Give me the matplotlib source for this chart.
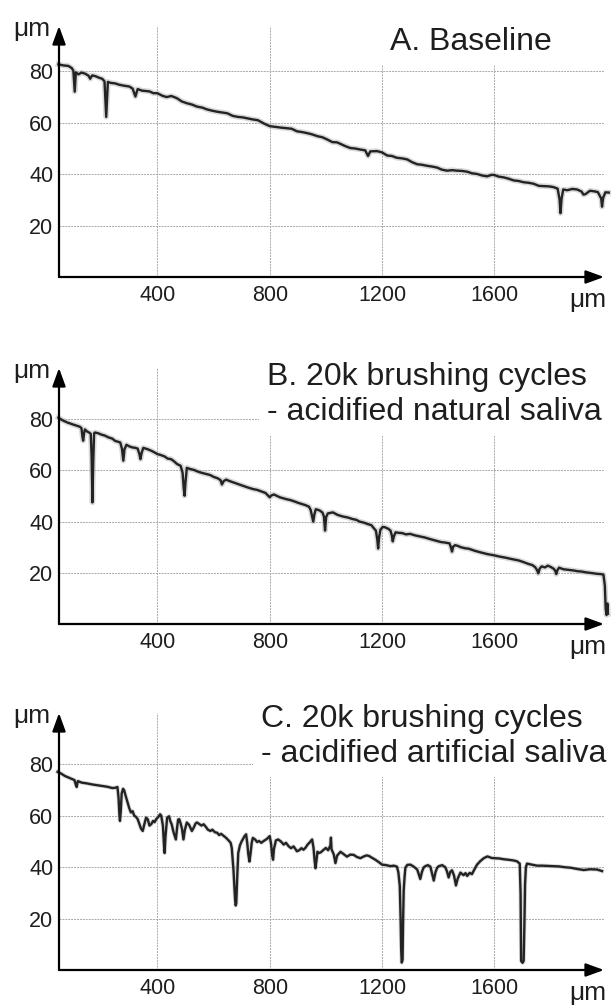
import matplotlib
matplotlib.use('Agg')
import matplotlib.pyplot as plt

plt.rcParams['font.family'] = ['Liberation Sans', 'DejaVu Sans']

# -------------------------
# DATA (µm)
# -------------------------
x_ticks = [400, 800, 1200, 1600]
y_ticks = [20, 40, 60, 80]

titles_a = ["A. Baseline"]
titles_b = ["B. 20k brushing cycles", "- acidified natural saliva"]
titles_c = ["C. 20k brushing cycles", "- acidified artificial saliva"]

a_x = [48, 65, 83, 95, 101, 106, 110, 119, 130, 143, 155, 161, 168, 180, 195, 204, 212, 218, 224, 234,
       250, 264, 282, 300, 312, 322, 330, 345, 372, 386, 400, 418, 433, 450, 469, 487, 505, 523, 541, 560,
       577, 595, 613, 630, 649, 668, 686, 704, 722, 740, 758, 780, 800, 820, 842, 860, 878, 897, 915, 933,
       951, 970, 987, 1005, 1023, 1040, 1052, 1070, 1087, 1105, 1123, 1140, 1150, 1158, 1182, 1200, 1218,
       1235, 1253, 1270, 1289, 1307, 1325, 1342, 1360, 1378, 1396, 1413, 1431, 1450, 1467, 1485, 1503,
       1520, 1539, 1557, 1574, 1590, 1600, 1615, 1633, 1650, 1669, 1686, 1704, 1722, 1740, 1758, 1776,
       1795, 1811, 1825, 1832, 1835, 1839, 1845, 1859, 1877, 1894, 1910, 1917, 1924, 1940, 1954, 1968,
       1980, 1983, 1987, 1995, 2007]
a_y = [82.6, 82.2, 82.0, 81.2, 80.2, 72.0, 79.5, 78.7, 79.4, 79.0, 78.2, 77.0, 78.3, 78.0, 77.3, 77.0,
       76.0, 62.2, 75.8, 75.4, 75.2, 74.7, 74.3, 74.0, 73.2, 70.1, 73.0, 72.4, 72.1, 71.4, 71.4, 70.4,
       69.9, 70.3, 69.5, 68.2, 67.5, 67.0, 66.2, 65.8, 65.1, 64.6, 64.2, 63.9, 63.6, 62.6, 62.2, 62.0,
       61.6, 61.2, 60.9, 59.6, 58.6, 58.3, 58.0, 57.8, 57.6, 56.6, 56.3, 55.9, 55.4, 54.7, 54.3, 53.4,
       52.4, 52.3, 51.7, 50.8, 50.1, 49.9, 49.5, 49.2, 47.0, 48.8, 48.9, 48.4, 47.2, 47.0, 46.3, 46.1,
       45.7, 44.6, 43.8, 43.6, 43.2, 42.9, 42.5, 41.7, 41.3, 41.5, 41.3, 41.2, 40.9, 40.3, 40.0, 39.4,
       39.1, 39.7, 39.6, 39.0, 38.7, 38.2, 37.5, 37.3, 36.8, 36.6, 36.2, 35.4, 35.3, 35.2, 34.9, 34.3,
       30.0, 24.8, 30.5, 34.0, 33.7, 34.2, 34.0, 33.2, 32.0, 32.2, 33.5, 33.3, 33.0, 30.5, 27.3, 30.8,
       32.9, 32.8]

b_x = [48, 62, 80, 98, 115, 125, 130, 133, 136, 139, 142, 150, 157, 163, 166, 169, 172, 175, 178, 190,
       200, 213, 226, 240, 250, 260, 268, 274, 279, 283, 290, 300, 310, 322, 330, 336, 340, 344, 350, 365,
       382, 400, 412, 425, 437, 449, 460, 470, 483, 490, 494, 497, 500, 505, 518, 530, 545, 560, 574, 588,
       600, 615, 625, 630, 636, 645, 658, 671, 685, 700, 720, 741, 755, 770, 785, 795, 800, 806, 815, 836,
       858, 874, 890, 902, 914, 928, 940, 946, 950, 955, 959, 964, 972, 980, 988, 993, 997, 1001, 1007,
       1025, 1042, 1060, 1078, 1095, 1108, 1120, 1135, 1150, 1162, 1170, 1178, 1183, 1186, 1189, 1194,
       1202, 1210, 1222, 1230, 1235, 1238, 1242, 1248, 1260, 1272, 1285, 1300, 1318, 1335, 1352, 1370,
       1390, 1410, 1425, 1440, 1445, 1449, 1453, 1460, 1470, 1480, 1495, 1509, 1530, 1550, 1575, 1600,
       1620, 1640, 1660, 1687, 1703, 1720, 1735, 1745, 1752, 1756, 1761, 1768, 1780, 1790, 1800, 1812,
       1817, 1820, 1824, 1830, 1845, 1860, 1872, 1882, 1897, 1910, 1925, 1940, 1953, 1965, 1978, 1988,
       1993, 1996, 1999, 2002, 2004]
b_y = [80.6, 79.6, 78.7, 78.0, 77.4, 77.0, 76.5, 73.5, 71.6, 74.2, 76.0, 75.2, 74.8, 74.3, 66.0, 47.5,
       64.0, 74.5, 74.8, 74.5, 74.0, 73.6, 72.9, 72.4, 71.5, 71.2, 70.9, 68.5, 63.8, 68.2, 70.0, 69.4,
       69.0, 68.8, 68.5, 66.5, 64.4, 66.8, 68.8, 68.3, 67.5, 66.4, 66.0, 65.5, 64.6, 64.4, 63.5, 62.5,
       61.8, 59.0, 53.0, 50.1, 55.0, 61.0, 60.5, 60.2, 59.5, 59.0, 58.6, 58.2, 57.5, 56.9, 56.2, 54.5,
       55.8, 56.4, 55.8, 55.3, 54.8, 54.2, 53.4, 52.7, 52.4, 51.8, 51.2, 50.1, 49.5, 50.2, 50.6, 49.5,
       48.8, 48.4, 47.8, 47.3, 46.9, 46.4, 45.8, 44.5, 42.5, 40.0, 42.8, 44.8, 44.6, 44.2, 43.5, 42.0,
       36.5, 41.8, 43.2, 43.6, 42.6, 42.0, 41.6, 41.0, 40.7, 40.0, 39.6, 39.0, 38.6, 37.5, 36.5, 33.0,
       29.5, 33.5, 36.8, 37.9, 37.8, 37.2, 36.5, 34.5, 32.3, 34.2, 35.8, 35.6, 35.5, 35.0, 35.2, 34.6,
       34.2, 33.8, 33.2, 32.6, 32.0, 31.8, 31.5, 30.0, 28.3, 30.2, 30.8, 30.5, 30.0, 29.6, 29.4, 28.6,
       28.0, 27.3, 26.8, 26.3, 25.9, 25.4, 24.8, 24.2, 23.5, 23.0, 22.2, 21.0, 19.8, 21.6, 22.5, 22.1,
       22.8, 22.3, 21.5, 20.6, 19.5, 21.0, 22.0, 21.4, 21.2, 21.0, 20.9, 20.6, 20.5, 20.2, 20.0, 19.8,
       19.6, 19.5, 19.3, 15.0, 6.0, 3.5, 8.0, 4.0]

c_x = [45, 58, 71, 90, 105, 110, 113, 117, 131, 150, 168, 185, 204, 222, 240, 250, 258, 262, 265, 267,
       270, 273, 278, 282, 288, 294, 300, 306, 312, 318, 324, 330, 337, 342, 348, 354, 360, 366, 372, 378,
       385, 390, 396, 404, 410, 414, 420, 424, 426, 429, 435, 442, 446, 451, 458, 463, 466, 470, 474, 478,
       483, 488, 493, 498, 505, 513, 518, 523, 530, 536, 541, 548, 557, 565, 572, 580, 589, 596, 605, 613,
       620, 627, 637, 645, 653, 661, 665, 668, 671, 674, 677, 679, 681, 684, 688, 694, 700, 704, 710, 716,
       720, 724, 728, 732, 736, 740, 748, 755, 762, 770, 780, 790, 800, 805, 809, 812, 815, 822, 830, 840,
       850, 858, 867, 876, 885, 897, 905, 913, 920, 927, 935, 942, 951, 956, 960, 963, 967, 970, 975, 982,
       990, 1000, 1008, 1016, 1018, 1020, 1028, 1034, 1040, 1052, 1062, 1075, 1087, 1099, 1110, 1123,
       1135, 1145, 1153, 1165, 1176, 1188, 1200, 1215, 1230, 1242, 1253, 1258, 1263, 1266, 1268, 1270,
       1273, 1275, 1277, 1280, 1283, 1290, 1301, 1313, 1325, 1330, 1336, 1342, 1348, 1354, 1363, 1372,
       1378, 1384, 1390, 1396, 1402, 1414, 1425, 1431, 1437, 1443, 1449, 1456, 1463, 1469, 1479, 1490,
       1497, 1503, 1512, 1520, 1528, 1538, 1550, 1562, 1575, 1590, 1600, 1617, 1633, 1650, 1669, 1680,
       1690, 1693, 1695, 1700, 1704, 1707, 1709, 1712, 1716, 1733, 1752, 1770, 1790, 1811, 1830, 1850,
       1871, 1895, 1918, 1940, 1965, 1983]
c_y = [77.1, 76.4, 75.5, 74.6, 73.9, 72.0, 71.2, 73.5, 72.9, 72.6, 72.2, 71.9, 71.6, 71.3, 70.8, 70.9,
       71.2, 67.0, 60.5, 58.0, 62.0, 68.6, 70.5, 69.9, 67.5, 65.3, 63.0, 61.3, 61.8, 60.0, 59.6, 58.7,
       56.6, 55.0, 54.1, 56.8, 59.3, 58.6, 56.2, 56.7, 58.0, 57.5, 58.7, 59.6, 60.6, 60.0, 56.0, 48.0,
       45.5, 52.0, 59.3, 59.8, 58.0, 56.7, 53.5, 51.8, 50.8, 55.0, 58.5, 58.7, 57.0, 54.8, 50.8, 54.5,
       57.4, 56.5, 55.3, 54.1, 55.5, 57.0, 57.4, 56.9, 56.2, 56.7, 55.8, 54.6, 54.1, 54.6, 53.6, 53.4,
       52.5, 53.0, 52.1, 51.4, 50.5, 49.5, 47.5, 43.0, 39.0, 33.0, 27.0, 25.1, 26.0, 35.0, 45.5, 48.5,
       50.0, 50.8, 52.0, 52.8, 49.5, 45.0, 42.2, 45.5, 49.5, 51.4, 50.8, 49.8, 50.2, 49.5, 50.3, 51.0,
       52.1, 49.0, 44.5, 42.9, 47.0, 50.4, 50.8, 50.0, 48.8, 49.5, 48.2, 47.4, 48.1, 46.2, 46.6, 47.4,
       46.8, 47.5, 48.8, 49.6, 50.8, 47.5, 42.5, 39.6, 43.0, 46.0, 45.5, 45.8, 46.6, 47.5, 46.6, 48.5,
       51.5, 47.0, 45.0, 41.6, 44.5, 46.0, 45.2, 44.1, 44.9, 44.8, 44.0, 43.5, 44.2, 44.6, 44.4, 43.6,
       42.9, 42.0, 41.0, 40.8, 40.4, 40.6, 40.2, 38.0, 32.9, 20.0, 8.0, 2.9, 4.0, 20.0, 31.0, 36.0,
       39.8, 40.9, 41.0, 40.2, 39.1, 37.5, 35.4, 38.2, 39.9, 40.4, 40.8, 40.2, 37.5, 34.8, 38.0, 39.8,
       40.4, 40.8, 40.0, 38.4, 36.0, 38.2, 38.8, 36.8, 32.9, 35.5, 37.9, 36.9, 37.7, 36.6, 37.8, 37.3,
       39.0, 41.0, 42.4, 43.5, 44.2, 43.6, 43.5, 43.4, 43.1, 42.9, 42.6, 42.3, 41.4, 30.0, 3.5, 2.8,
       3.5, 20.0, 33.5, 40.0, 41.4, 41.0, 40.6, 40.6, 40.5, 40.4, 40.3, 40.0, 39.8, 39.3, 38.9, 39.2,
       39.1, 38.5]

# -------------------------
# LAYOUT (pixels of the 611 x 1006 picture)
# -------------------------
FIG_W, FIG_H = 611, 1006
X_MIN, X_MAX = 50, 1990
AX_LEFT, AX_RIGHT = 59, 604
TEXT_COLOR = '#1e1e1e'


def add_panel(fig, x, y, y0_px, y_top, top_px, title_lines, title_left, title_base, halo):
    rect = [AX_LEFT / FIG_W, 1 - y0_px / FIG_H,
            (AX_RIGHT - AX_LEFT) / FIG_W, (y0_px - top_px) / FIG_H]
    ax = fig.add_axes(rect)
    ax.set_xlim(X_MIN, X_MAX)
    ax.set_ylim(0, y_top)
    for s in ax.spines.values():
        s.set_visible(False)
    ax.set_xticks(x_ticks)
    ax.set_yticks(y_ticks)
    ax.tick_params(length=0, labelsize=15.5, labelcolor=TEXT_COLOR)
    ax.tick_params(axis='x', pad=6)
    ax.tick_params(axis='y', pad=4)
    ax.grid(True, color='#a9a9a9', lw=0.7, ls=(0, (2, 1)))
    ax.set_axisbelow(True)

    # profile trace: faint grey speckle band + dark core
    ax.plot(x, y, color='#b4b4b4', lw=halo, alpha=0.5, clip_on=False)
    ax.plot(x, y, color='#232323', lw=1.7, clip_on=False)

    # axes drawn as arrows
    arrow = dict(arrowstyle='-|>,head_length=0.55,head_width=0.2', color='black',
                 lw=1.6, mutation_scale=20, shrinkA=0, shrinkB=0)
    ax.annotate('', xy=(X_MAX, 0), xytext=(X_MIN, 0), arrowprops=arrow, annotation_clip=False)
    ax.annotate('', xy=(X_MIN, y_top), xytext=(X_MIN, 0), arrowprops=arrow, annotation_clip=False)

    # unit labels
    fig.text(50 / FIG_W, 1 - (top_px + 10) / FIG_H, 'μm', ha='right', va='baseline',
             fontsize=19, color=TEXT_COLOR)
    fig.text(606 / FIG_W, 1 - (y0_px + 30) / FIG_H, 'μm', ha='right', va='baseline',
             fontsize=19, color=TEXT_COLOR)

    # panel title: white patches first (they hide the grid), then the text on top
    for i, line in enumerate(title_lines):
        fig.text(title_left / FIG_W, 1 - (title_base + 35 * i) / FIG_H, line,
                 ha='left', va='baseline', fontsize=23, color='none', zorder=3,
                 bbox=dict(facecolor='white', edgecolor='none', pad=6))
    for i, line in enumerate(title_lines):
        fig.text(title_left / FIG_W, 1 - (title_base + 35 * i) / FIG_H, line,
                 ha='left', va='baseline', fontsize=23, color=TEXT_COLOR, zorder=4)
    return ax


fig = plt.figure(figsize=(FIG_W / 100, FIG_H / 100), dpi=100)
fig.patch.set_facecolor('white')

add_panel(fig, a_x, a_y, 277, 97.5, 26, titles_a, 390, 50, 4.0)
add_panel(fig, b_x, b_y, 624, 100, 368, titles_b, 267, 385, 4.0)
add_panel(fig, c_x, c_y, 970, 100, 713, titles_c, 261, 727, 3.0)

fig.savefig('out.png', dpi=100, facecolor='white')
